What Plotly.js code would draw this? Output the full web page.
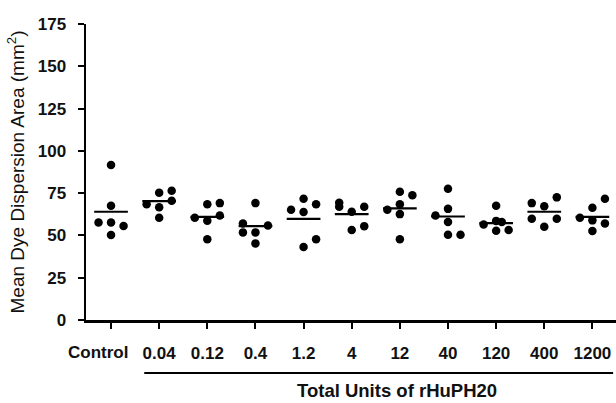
<!DOCTYPE html>
<html>
<head>
<meta charset="utf-8">
<script src="https://cdn.plot.ly/plotly-3.0.1.min.js"></script>
<style>html,body{margin:0;padding:0;background:#fff;}#chart{width:616px;height:403px;}</style>
</head>
<body>
<div id="chart"></div>
<script>
// ---- data ----
const categories = ['Control','0.04','0.12','0.4','1.2','4','12','40','120','400','1200'];
const valsControl = [91.7, 67.6, 57.7, 57.7, 55.6, 50.3];
const vals004  = [68.5, 75.2, 76.4, 70.5, 66.7, 60.4];
const vals012  = [68.5, 69.1, 60.4, 61.8, 58.7, 47.8];
const vals04   = [69.1, 57.1, 51.8, 51.8, 55.9, 45.3];
const vals12   = [65.2, 71.7, 68.5, 63.8, 47.8, 43.1];
const vals4    = [69.3, 66.9, 64.0, 66.9, 53.2, 55.5];
const vals12b  = [75.8, 73.8, 68.5, 65.2, 62.6, 47.8];
const vals40   = [77.6, 65.7, 61.8, 57.9, 50.4, 50.4];
const vals120  = [67.5, 56.5, 58.6, 58.0, 52.7, 53.2];
const vals400  = [69.1, 67.2, 72.5, 59.8, 59.8, 55.1];
const vals1200 = [60.4, 66.3, 71.7, 58.9, 57.1, 52.6];
const groupValues = [valsControl, vals004, vals012, vals04, vals12, vals4, vals12b, vals40, vals120, vals400, vals1200];
// jitter column of each dot (-1 left, 0 centre, 1 right)
const groupCols = [
  [0,0,-1,0,1,0],
  [-1,0,1,1,0,0],
  [0,1,-1,1,0,0],
  [0,-1,-1,0,1,0],
  [-1,0,1,0,1,0],
  [-1,-1,0,1,0,1],
  [0,1,0,-1,0,0],
  [0,0,-1,0,0,1],
  [0,-1,0,0.45,0,1],
  [-1,0,1,-1,1,0],
  [-1,0,1,0,1,0]
];
const groupMeans = [64.0, 70.3, 61.0, 55.5, 59.8, 62.6, 66.0, 61.2, 57.3, 64.0, 61.0];

// ---- build traces ----
const jitter = 0.26, half = 0.35;
const px = [], py = [];
groupValues.forEach((vals, i) => {
  vals.forEach((v, j) => { px.push(i + groupCols[i][j] * jitter); py.push(v); });
});
const mx = [], my = [];
groupMeans.forEach((m, i) => { mx.push(i - half, i + half, null); my.push(m, m, null); });

const traces = [
  {x: mx, y: my, type: 'scatter', mode: 'lines', line: {color: '#000', width: 2.2}, hoverinfo: 'skip', cliponaxis: false},
  {x: px, y: py, type: 'scatter', mode: 'markers', marker: {color: '#000', size: 8.5}, cliponaxis: false}
];

// the first label sits left of its tick in the reference, so it is drawn as an annotation
const tickText = categories.map((c, i) => i === 0 ? '' : c);

const txt = '#111';
const fam = 'Liberation Sans, Arial, sans-serif';
const tickFont = {family: fam, size: 17, weight: 700, color: txt};
const layout = {
  width: 616, height: 403,
  margin: {l: 86, r: 0, t: 24, b: 83, pad: 0},
  paper_bgcolor: '#fff', plot_bgcolor: '#fff',
  showlegend: false,
  font: {family: fam, color: txt},
  xaxis: {
    range: [-0.52, 10.49], showgrid: false, zeroline: false,
    showline: true, linecolor: '#000', linewidth: 2.5,
    ticks: 'outside', ticklen: 6, tickwidth: 2, tickcolor: '#000',
    tickmode: 'array', tickvals: categories.map((c, i) => i), ticktext: tickText,
    tickangle: 0,
    tickfont: tickFont,
    ticklabelstandoff: 10
  },
  yaxis: {
    range: [0, 175], showgrid: false, zeroline: false,
    showline: true, linecolor: '#000', linewidth: 2.5,
    ticks: 'outside', ticklen: 6, tickwidth: 2, tickcolor: '#000',
    tickvals: [0,25,50,75,100,125,150,175],
    tickfont: tickFont,
    ticklabelstandoff: 8,
    title: {text: 'Mean Dye Dispersion Area (mm<sup>2</sup>)', font: {family: fam, size: 19, color: txt}, standoff: 8}
  },
  shapes: [
    {type: 'line', xref: 'x', yref: 'paper', x0: 0.69, x1: 10.43, y0: -0.179, y1: -0.179, line: {color: '#000', width: 2.2}}
  ],
  annotations: [
    {text: categories[0], xref: 'x', yref: 'paper', x: -0.27, y: -0.111, xanchor: 'center', yanchor: 'middle', showarrow: false,
     font: tickFont},
    {text: 'Total Units of rHuPH20', xref: 'x', yref: 'paper', x: 5.95, y: -0.282, xanchor: 'center', yanchor: 'bottom', showarrow: false,
     font: {family: fam, size: 18.5, weight: 700, color: txt}}
  ]
};

Plotly.newPlot('chart', traces, layout, {displayModeBar: false, staticPlot: true});
</script>
</body>
</html>
